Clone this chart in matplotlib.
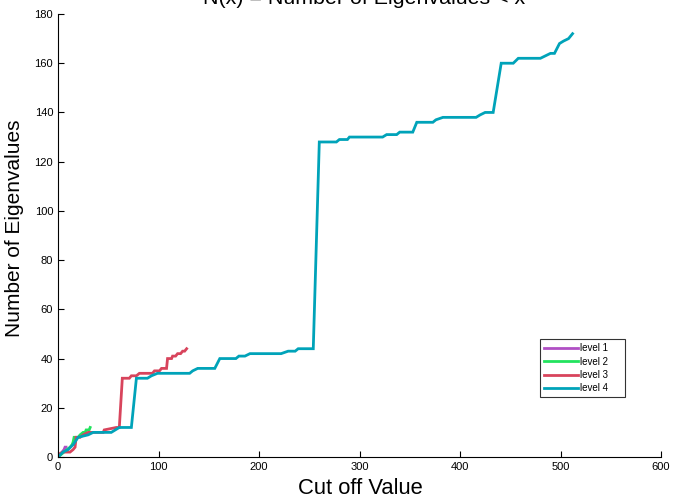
import matplotlib
matplotlib.use("Agg")
import matplotlib.pyplot as plt
from matplotlib import font_manager

# Data
x1 = [0, 2, 4, 6, 7, 8]
y1 = [0, 1, 2, 3, 4, 4]

x2 = [0, 3, 6, 9, 12, 14, 15, 16, 20, 22, 25, 27, 28, 31, 32]
y2 = [0, 1, 2, 3, 4, 5, 6, 8, 8, 9, 10, 10, 11, 11, 12]

x3 = [0, 5, 12, 15, 17, 18, 22, 25, 30, 45, 46, 58, 61, 64, 71, 73, 78, 81, 94,
      96, 101, 103, 108, 109, 113, 114, 117, 119, 122, 124, 126, 128]
y3 = [1, 2, 2, 3, 4, 8, 8, 9, 10, 10, 11, 12, 12, 32, 32, 33, 33, 34, 34,
      35, 35, 36, 36, 40, 40, 41, 41, 42, 42, 43, 43, 44]

x4 = [0, 5, 10, 15, 20, 30, 35, 53, 57, 61, 73, 78, 89, 93, 99, 131, 134, 139, 156,
      161, 177, 180, 186, 191, 222, 229, 236, 239, 254, 260, 277, 280, 288, 290, 323,
      327, 337, 340, 353, 357, 373, 376, 383, 416, 420, 425, 433, 437, 441, 453, 458,
      480, 485, 490, 494, 499, 503, 508, 512]
y4 = [0, 2, 3, 5, 8, 9, 10, 10, 11, 12, 12, 32, 32, 33, 34, 34, 35, 36, 36,
      40, 40, 41, 41, 42, 42, 43, 43, 44, 44, 128, 128, 129, 129, 130, 130,
      131, 131, 132, 132, 136, 136, 137, 138, 138, 139, 140, 140, 150, 160, 160, 162,
      162, 163, 164, 164, 168, 169, 170, 172]

labels = ["level 1", "level 2", "level 3", "level 4"]
colors = ["#b04fc4", "#22e35e", "#d8445c", "#00a3b9"]

names = {f.name for f in font_manager.fontManager.ttflist}
tick_font = "Liberation Sans Narrow" if "Liberation Sans Narrow" in names else "Liberation Sans"

W, H = 674, 499
fig = plt.figure(figsize=(W / 100, H / 100), dpi=100)
ax = fig.add_axes([58/W, 42/H, 603/W, 443/H])

for xs, ys, lab, c in zip([x1, x2, x3, x4], [y1, y2, y3, y4], labels, colors):
    ax.plot(xs, ys, color=c, lw=2.0, label=lab, solid_joinstyle="miter")

ax.set_xlim(0, 600)
ax.set_ylim(0, 180)
ax.set_xticks(range(0, 601, 100))
ax.set_yticks(range(0, 181, 20))
ax.spines["top"].set_visible(False)
ax.spines["right"].set_visible(False)
ax.tick_params(direction="in", length=4, width=0.8, labelsize=8)
for lbl in ax.get_xticklabels() + ax.get_yticklabels():
    lbl.set_fontfamily(tick_font)

fig.text(360/W, 1 - 494/H, "Cut off Value", ha="center", va="baseline",
         fontsize=15.8, family="Liberation Sans")
fig.text(15/W, 1 - 228/H, "Number of Eigenvalues", ha="center", va="center",
         rotation=90, fontsize=15, family="Liberation Sans")
fig.text(364/W, 1 - 4/H, "N(x) = Number of Eigenvalues < x", ha="center",
         va="baseline", fontsize=15.4, family="Liberation Sans")

leg = ax.legend(loc="lower left", bbox_to_anchor=(0.799, 0.135, 0.141, 0.152),
                mode="expand", prop={"family": tick_font, "size": 7},
                frameon=True, fancybox=False, borderaxespad=0, handlelength=3.5,
                handletextpad=0.2, labelspacing=0.35, borderpad=0.4)
leg.get_frame().set_edgecolor("black")
leg.get_frame().set_linewidth(0.8)

fig.savefig("out.png", dpi=100)
